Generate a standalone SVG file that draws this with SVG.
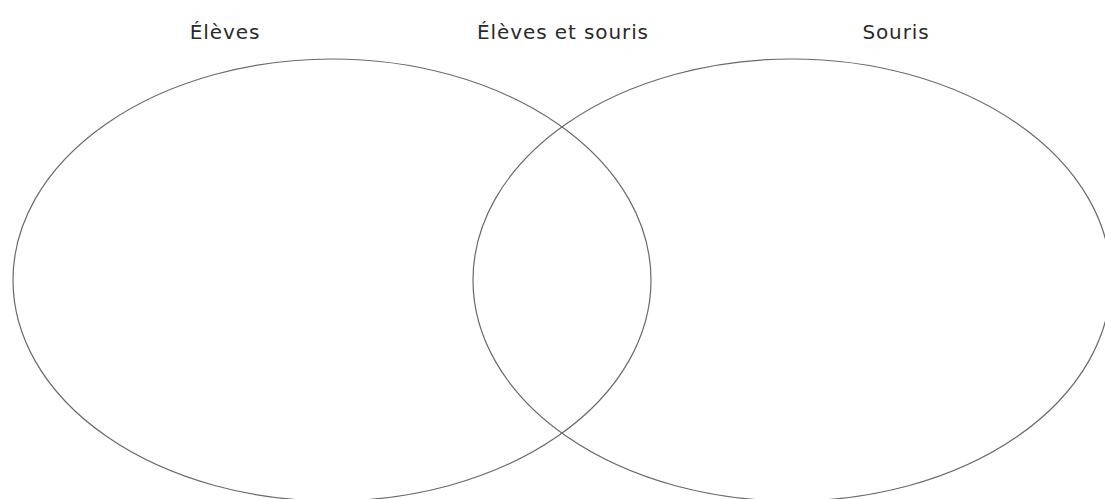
<svg xmlns="http://www.w3.org/2000/svg" width="1105" height="499" viewBox="0 0 1105 499">
<style>
.lbl{font-family:"DejaVu Sans","Open Sans",sans-serif;font-size:20px;fill:#2a2a2a;text-anchor:middle;letter-spacing:0.9px}
.set{fill:none;stroke:#6a6a6a;stroke-width:1.2}
</style>
<rect width="1105" height="499" fill="#fff"/>
<g id="eleves">
<ellipse class="set" cx="332" cy="280" rx="319" ry="221"/>
<text class="lbl" x="225" y="39">Élèves</text>
</g>
<g id="souris">
<ellipse class="set" cx="792" cy="280" rx="319" ry="221"/>
<text class="lbl" x="896" y="39">Souris</text>
</g>
<g id="intersection">
<text class="lbl" x="563" y="39">Élèves et souris</text>
</g>
<g id="connectors"/>
</svg>
